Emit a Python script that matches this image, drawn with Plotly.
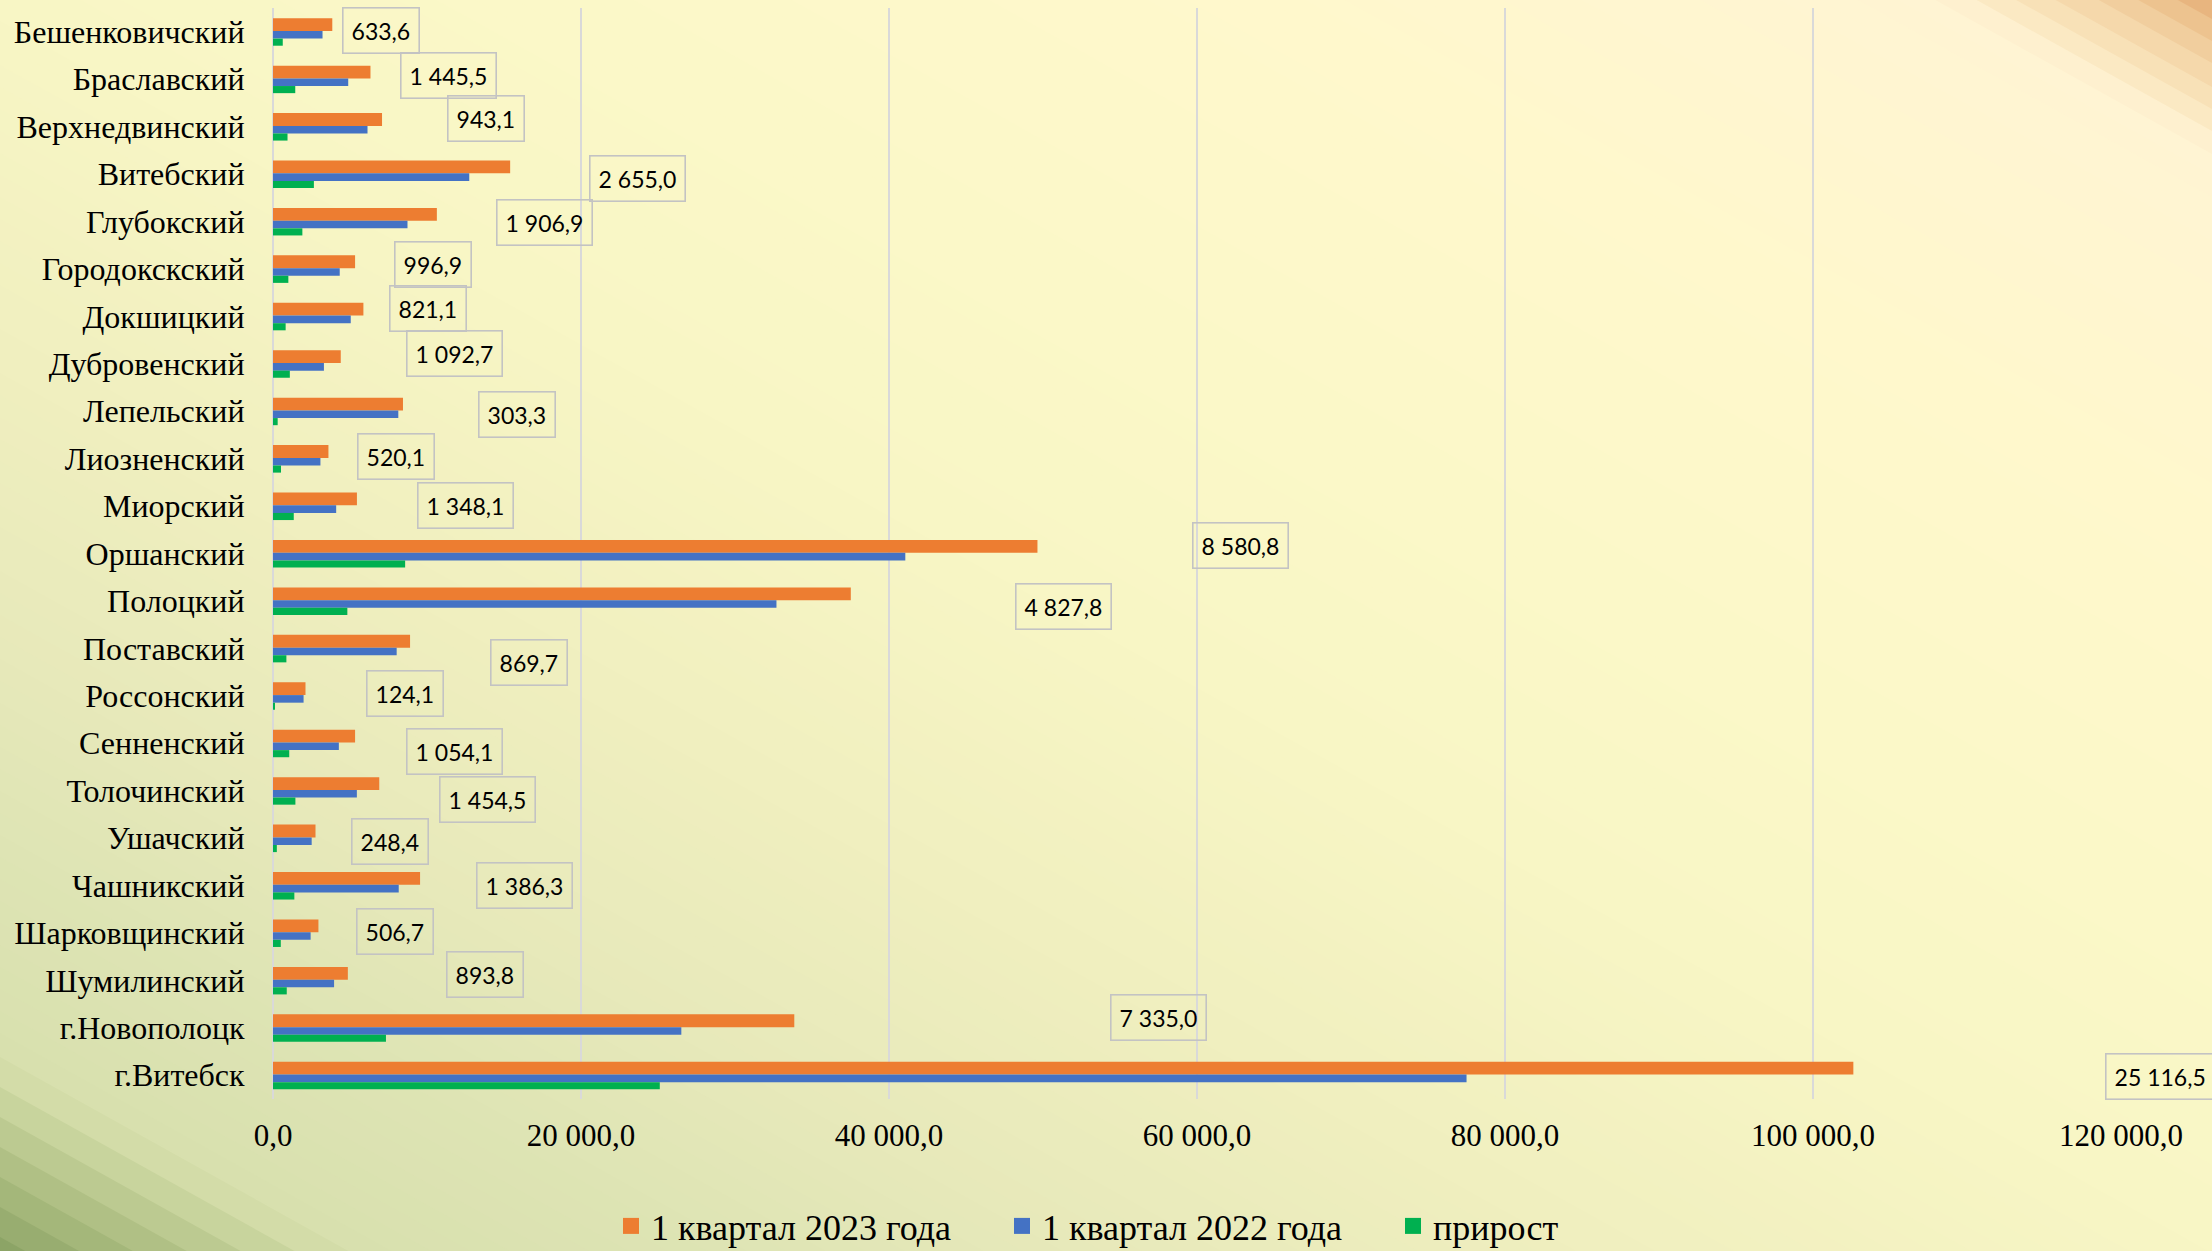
import plotly.graph_objects as go

# ---------------- data ----------------
categories = [
    "Бешенковичский", "Браславский", "Верхнедвинский", "Витебский", "Глубокский",
    "Городокскский", "Докшицкий", "Дубровенский", "Лепельский", "Лиозненский",
    "Миорский", "Оршанский", "Полоцкий", "Поставский", "Россонский",
    "Сенненский", "Толочинский", "Ушачский", "Чашникский", "Шарковщинский",
    "Шумилинский", "г.Новополоцк", "г.Витебск",
]
q1_2023 = [
    3850.0, 6330.0, 7080.0, 15400.0, 10640.0,
    5330.0, 5870.0, 4400.0, 8440.0, 3600.0,
    5450.0, 49640.0, 37520.0, 8900.0, 2110.0,
    5330.0, 6900.0, 2760.0, 9550.0, 2950.0,
    4860.0, 33850.0, 102620.0,
]
q1_2022 = [
    3216.4, 4884.5, 6136.9, 12745.0, 8733.1,
    4333.1, 5048.9, 3307.3, 8136.7, 3079.9,
    4101.9, 41059.2, 32692.2, 8030.3, 1985.9,
    4275.9, 5445.5, 2511.6, 8163.7, 2443.3,
    3966.2, 26515.0, 77503.5,
]
growth = [
    633.6, 1445.5, 943.1, 2655.0, 1906.9,
    996.9, 821.1, 1092.7, 303.3, 520.1,
    1348.1, 8580.8, 4827.8, 869.7, 124.1,
    1054.1, 1454.5, 248.4, 1386.3, 506.7,
    893.8, 7335.0, 25116.5,
]
series_names = ["1 квартал 2023 года", "1 квартал 2022 года", "прирост"]
tick_values = [0, 20000, 40000, 60000, 80000, 100000, 120000]
tick_labels = ["0,0", "20 000,0", "40 000,0", "60 000,0", "80 000,0", "100 000,0", "120 000,0"]

# ---------------- layout helpers (positions of the dragged data labels) ----------------
label_x = [
    7000, 11400, 13850, 23650, 17650,
    10400, 10050, 11800, 15850, 8000,
    12500, 62850, 51300, 16650, 8600,
    11800, 13950, 7600, 16300, 7950,
    13750, 57500, 122500,
]
label_dy = [
    -1, -4, -8, 4, 1,
    -4, -8, -10, 3, -2,
    -1, -8, 6, 14, -2,
    8, 9, 3, 0, -1,
    -6, -10, 1,
]

COLORS = ["#ED7D31", "#4472C4", "#00B050"]
XMAX = 120000

W, H = 2212, 1251
ML, MR, MT, MB = 273, 91, 8, 152
PW, PH = W - ML - MR, H - MT - MB
K = 0.557


def fmt(v):
    s = f"{v:,.1f}"
    return s.replace(",", " ").replace(".", ",")


def hex2rgb(h):
    h = h.lstrip("#")
    return tuple(int(h[i:i + 2], 16) for i in (0, 2, 4))


def lerp_color(stops, s):
    if s <= stops[0][0]:
        return stops[0][1]
    for (s0, c0), (s1, c1) in zip(stops, stops[1:]):
        if s0 <= s <= s1:
            t = (s - s0) / (s1 - s0)
            a, b = hex2rgb(c0), hex2rgb(c1)
            r = [round(a[i] + (b[i] - a[i]) * t) for i in range(3)]
            return "#%02X%02X%02X" % tuple(r)
    return stops[-1][1]


def px2paper(x, y):
    return (x - ML) / PW, 1 - (y - MT) / PH


def band_path(s0, s1):
    pts = []
    for x, s in ((-30, s0), (W + 30, s0), (W + 30, s1), (-30, s1)):
        pts.append(px2paper(x, s + K * x))
    return "M " + " L ".join(f"{a:.5f},{b:.5f}" for a, b in pts) + " Z"


# smooth central gradient (top-right cream -> bottom-left light green)
grad_stops = [
    (-1079, "#FFF4D3"), (-700, "#FFF8CC"), (-300, "#FBF8C8"), (0, "#F8F6C5"),
    (350, "#F0EFBF"), (650, "#E7E9BA"), (850, "#DEE4B4"), (1057, "#D8E0AE"),
]
stripes = [
    (-1102, -1079, "#FEF0CF"), (-1124, -1102, "#FBE9C3"), (-1146, -1124, "#F8E1B7"),
    (-1170, -1146, "#F5D8AB"), (-1192, -1170, "#F1CE9E"), (-1214, -1192, "#EDC38F"),
    (-1320, -1214, "#E8B57F"),
    (1057, 1087, "#D3DCA8"), (1087, 1117, "#C8D49D"), (1117, 1147, "#BCCA91"),
    (1147, 1177, "#B0C085"), (1177, 1207, "#A4B77A"), (1207, 1237, "#98AD70"),
    (1237, 1320, "#8CA466"),
]

shapes = []
step = 22
s = -1079
while s < 1057:
    s1 = min(s + step, 1057)
    shapes.append(dict(type="path", xref="paper", yref="paper", layer="below",
                       path=band_path(s, s1 + 1.5), fillcolor=lerp_color(grad_stops, (s + s1) / 2),
                       line=dict(width=0)))
    s = s1
for s0, s1, c in stripes:
    shapes.append(dict(type="path", xref="paper", yref="paper", layer="below",
                       path=band_path(s0, s1 + 1), fillcolor=c, line=dict(width=0)))

# ---------------- figure ----------------
fig = go.Figure()
bar_offsets = [-0.285, -0.015, 0.145]
bar_widths = [0.27, 0.16, 0.15]
for name, vals, col, off, wd in zip(series_names, [q1_2023, q1_2022, growth], COLORS, bar_offsets, bar_widths):
    fig.add_trace(go.Bar(
        y=categories, x=vals, name=name, orientation="h",
        marker=dict(color=col, line=dict(width=0)),
        offset=off, width=wd, showlegend=False, legendgroup=name,
    ))
# legend entries with larger square keys
for name, col in zip(series_names, COLORS):
    fig.add_trace(go.Scatter(
        x=[None], y=[None], mode="markers", name=name, legendgroup=name,
        marker=dict(symbol="square", size=16, color=col, line=dict(width=0)),
        showlegend=True, hoverinfo="skip",
    ))

annotations = []
for cat, g, lx, dy in zip(categories, growth, label_x, label_dy):
    annotations.append(dict(
        xref="paper", yref="y", x=lx / XMAX, y=cat, yshift=-dy,
        text=fmt(g), showarrow=False, xanchor="center", yanchor="middle",
        font=dict(family="Lato", size=23, color="#000000"),
        bordercolor="#C3C3C3", borderwidth=1.6, borderpad=8,
    ))

fig.update_layout(
    width=W, height=H,
    margin=dict(l=ML, r=MR, t=MT, b=MB, autoexpand=False),
    paper_bgcolor="#F7F5C5",
    plot_bgcolor="rgba(0,0,0,0)",
    barmode="overlay",
    shapes=shapes,
    annotations=annotations,
    font=dict(family="Liberation Serif", color="#000000"),
    legend=dict(
        orientation="h", x=(611 - ML) / PW, xanchor="left",
        y=1 - (1226 - MT) / PH, yanchor="middle",
        font=dict(family="Liberation Serif", size=36, color="#000000"),
        bgcolor="rgba(0,0,0,0)", entrywidth=346, entrywidthmode="pixels",
        traceorder="normal",
    ),
    showlegend=True,
)
fig.update_xaxes(
    range=[0, XMAX], tickvals=tick_values, ticktext=tick_labels,
    showgrid=True, gridcolor="#D9D9D9", gridwidth=2,
    zeroline=True, zerolinecolor="#D9D9D9", zerolinewidth=2,
    showline=False, ticks="outside", ticklen=9, tickcolor="rgba(0,0,0,0)",
    tickfont=dict(family="Liberation Serif", size=31, color="#000000"),
    fixedrange=True,
)
fig.update_yaxes(
    autorange="reversed", type="category",
    showgrid=False, showline=False, zeroline=False,
    ticks="outside", ticklen=21, tickcolor="rgba(0,0,0,0)",
    tickfont=dict(family="Liberation Serif", size=32, color="#000000"),
    fixedrange=True,
)

fig.write_html(
    "out.html",
    config={"displayModeBar": False},
    post_script="document.body.style.margin='0';document.body.style.overflow='hidden';",
)
